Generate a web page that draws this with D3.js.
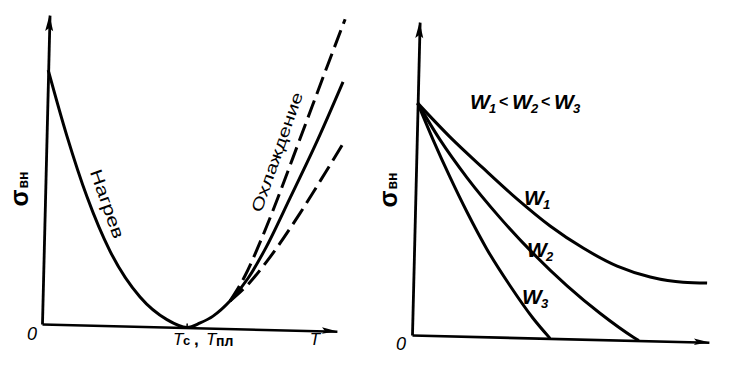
<!DOCTYPE html>
<html>
<head>
<meta charset="utf-8">
<script src="https://cdn.jsdelivr.net/npm/d3@7"></script>
<style>
  body { margin: 0; background: #fff; }
  svg { display: block; }
</style>
</head>
<body>
<div id="chart"></div>
<script>
// left panel: stress vs temperature (heating / cooling)
const heatCool = [[0, 8.22], [0.69, 6.10], [1.42, 4.15], [2.24, 2.42], [3.30, 0.95], [4.23, 0.24], [4.92, 0],
  [5.36, 0.16], [5.79, 0.39], [6.35, 0.89], [6.95, 1.65], [7.50, 2.60], [8.30, 4.27], [9.20, 6.20], [10.0, 8.07]];
const coolUpper = [[6.35, 0.89], [6.84, 1.72], [7.39, 2.98], [7.89, 4.27], [8.37, 5.59], [8.97, 7.24], [9.48, 8.64], [10.02, 10.1]];
const coolLower = [[6.35, 0.89], [7.0, 1.50], [7.58, 2.22], [8.66, 3.80], [9.47, 5.11], [10.02, 6.02]];
const tMin = 4.92;

// right panel: stress vs W for three rates
const w1 = [[0, 7.41], [1.12, 6.35], [2.25, 5.39], [3.42, 4.43], [4.56, 3.59], [5.69, 2.91], [6.85, 2.36], [7.97, 2.04], [9.08, 1.90], [9.89, 1.89]];
const w2 = [[0, 7.41], [0.78, 6.26], [1.72, 5.07], [2.87, 3.81], [4.01, 2.70], [5.18, 1.69], [6.31, 0.84], [7.44, 0.11], [7.64, 0]];
const w3 = [[0, 7.41], [0.55, 6.25], [1.15, 5.07], [1.75, 3.97], [2.45, 2.80], [3.26, 1.65], [4.06, 0.63], [4.65, 0]];
const wNames = ['1', '2', '3'];

const W = 734, H = 380;
const ink = '#000';
const font = '"Liberation Sans", Arial, sans-serif';

const svg = d3.select('#chart').append('svg')
  .attr('width', W)
  .attr('height', H)
  .style('background', '#fff');

// the scan is slightly rotated, so each panel is drawn in a tilted group
function panel(ox, oy, xLen, yLen) {
  const g = svg.append('g').attr('transform', `translate(${ox},${oy}) rotate(1.4)`);
  const x = d3.scaleLinear().domain([0, 10]).range([0, xLen]);
  const y = d3.scaleLinear().domain([0, 10]).range([0, -yLen]);

  // x axis
  const xg = g.append('g').call(d3.axisBottom(x).tickValues([]).tickSizeOuter(0));
  xg.select('.domain').attr('stroke', ink).attr('stroke-width', 2.6);
  g.append('path')
    .attr('d', `M${xLen},0 L${xLen - 15},-3.5 L${xLen - 12},0 L${xLen - 15},3 Z`)
    .attr('fill', ink);

  // y axis
  const yg = g.append('g').call(d3.axisLeft(y).tickValues([]).tickSizeOuter(0));
  yg.select('.domain').attr('stroke', ink).attr('stroke-width', 2.8);
  g.append('path')
    .attr('d', `M0,${-yLen} L-4,${-yLen + 16} L0,${-yLen + 13} L4,${-yLen + 16} Z`)
    .attr('fill', ink);

  return { g, x, y };
}

function drawCurve(p, data, dashed) {
  const line = d3.line()
    .x(d => p.x(d[0]))
    .y(d => p.y(d[1]))
    .curve(d3.curveMonotoneX);
  p.g.append('path')
    .datum(data)
    .attr('fill', 'none')
    .attr('stroke', ink)
    .attr('stroke-width', 3)
    .attr('stroke-linecap', 'butt')
    .attr('stroke-dasharray', dashed ? '18,7' : null)
    .attr('d', line);
}

// ---- left panel ----
const left = panel(42, 324, 295, 309);
// small tick at Tc
left.g.append('line')
  .attr('x1', left.x(tMin)).attr('x2', left.x(tMin))
  .attr('y1', 0).attr('y2', -4)
  .attr('stroke', ink).attr('stroke-width', 1.5);
drawCurve(left, heatCool, false);
drawCurve(left, coolUpper, true);
drawCurve(left, coolLower, true);

// ---- right panel ----
const right = panel(412, 335, 297, 313);
[w1, w2, w3].forEach(s => drawCurve(right, s, false));

// ---- text ----
function sigma(x, y) {
  const t = svg.append('text')
    .attr('transform', `translate(${x},${y}) rotate(-90)`)
    .attr('text-anchor', 'middle')
    .attr('font-family', font)
    .attr('fill', ink);
  t.append('tspan').attr('font-size', 25).attr('font-weight', 'bold').text('σ');
  t.append('tspan').attr('font-size', 14).attr('font-weight', 'bold').attr('dx', 1).text('вн');
}
sigma(28, 189);
sigma(397, 190);

function label(x, y, str, size) {
  return svg.append('text')
    .attr('x', x).attr('y', y)
    .attr('text-anchor', 'middle')
    .attr('font-family', font)
    .attr('font-size', size)
    .attr('font-style', 'italic')
    .attr('fill', ink)
    .text(str);
}
label(32, 340, '0', 18);
label(401, 350, '0', 18);
label(315, 345, 'T', 17);

// Tc, Tпл
const tc = svg.append('text')
  .attr('y', 345)
  .attr('font-family', font)
  .attr('fill', ink);
tc.append('tspan').attr('x', 173).attr('font-size', 17).attr('font-style', 'italic').text('T');
tc.append('tspan').attr('x', 183).attr('font-size', 13).attr('font-weight', 'bold').text('с');
tc.append('tspan').attr('x', 194).attr('font-size', 17).attr('font-weight', 'bold').text(',');
tc.append('tspan').attr('x', 206).attr('font-size', 17).attr('font-style', 'italic').text('T');
tc.append('tspan').attr('x', 216).attr('font-size', 14).attr('font-weight', 'bold').attr('dy', 1).text('пл');

// rotated curve labels
svg.append('text')
  .attr('transform', 'translate(107,204) rotate(70.6)')
  .attr('text-anchor', 'middle')
  .attr('dominant-baseline', 'central')
  .attr('font-family', font)
  .attr('font-size', 17)
  .attr('textLength', 72)
  .attr('lengthAdjust', 'spacingAndGlyphs')
  .attr('fill', ink)
  .text('Нагрев');

svg.append('text')
  .attr('transform', 'translate(277,152) rotate(-70.6)')
  .attr('text-anchor', 'middle')
  .attr('dominant-baseline', 'central')
  .attr('font-family', font)
  .attr('font-size', 16)
  .attr('textLength', 126)
  .attr('lengthAdjust', 'spacingAndGlyphs')
  .attr('fill', ink)
  .text('Охлаждение');

// W labels
function wLabel(t, n, x, y) {
  t.append('tspan').attr('x', x).attr('y', y)
    .attr('font-size', 21).attr('font-weight', 'bold').attr('font-style', 'italic').text('W');
  t.append('tspan').attr('x', x + 19).attr('y', y + 4)
    .attr('font-size', 13).attr('font-weight', 'bold').attr('font-style', 'italic').text(n);
}
const order = svg.append('text')
  .attr('font-family', font)
  .attr('fill', ink);
wNames.forEach((n, i) => {
  const x0 = 470 + i * 42;
  if (i > 0) {
    order.append('tspan').attr('x', x0 - 13).attr('y', 107)
      .attr('font-size', 16).attr('font-weight', 'bold').text('<');
  }
  wLabel(order, n, x0, 109);
});

const wPos = [[524, 205], [527, 257], [522, 304]];
wNames.forEach((n, i) => {
  const t = svg.append('text')
    .attr('font-family', font)
    .attr('fill', ink);
  wLabel(t, n, wPos[i][0], wPos[i][1]);
});
</script>
</body>
</html>
